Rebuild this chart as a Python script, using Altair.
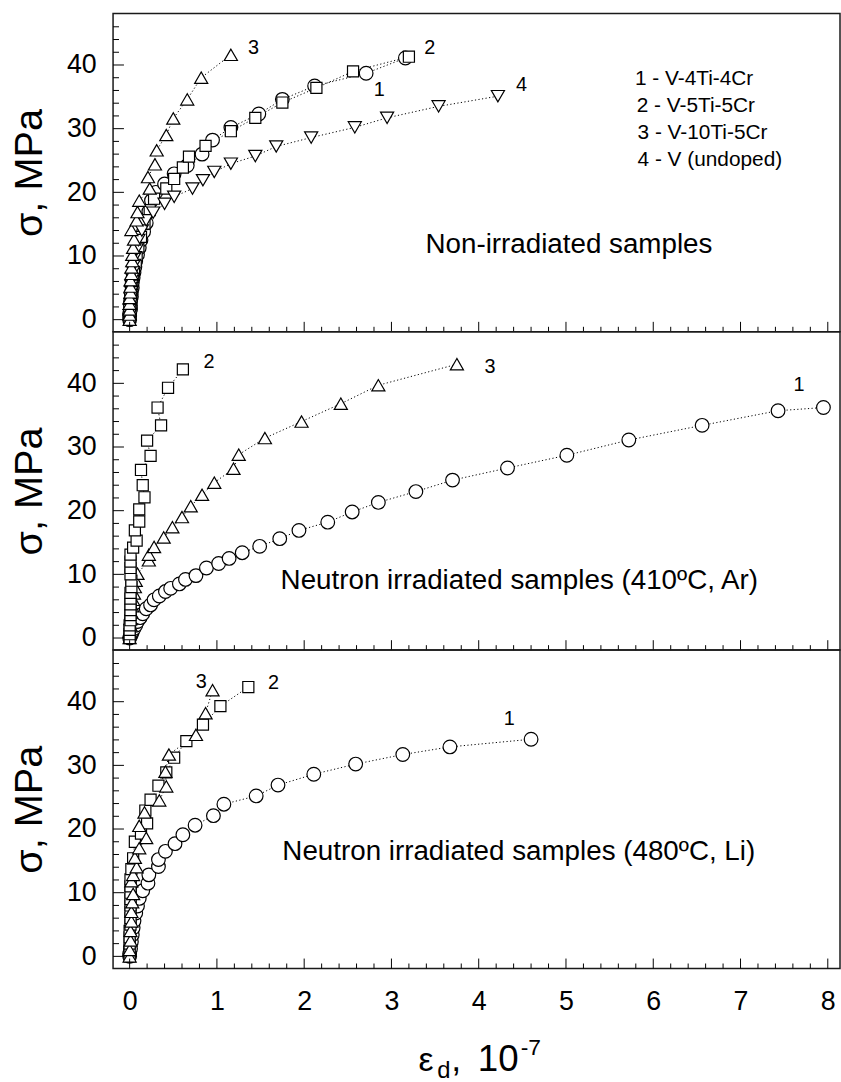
import altair as alt
import pandas as pd

FONT = "Liberation Sans"
W, H = 733, 321
X_DOM = [-0.19, 8.14]
Y_DOM = [-1.9, 48.1]

# ---------------- Panel 1: Non-irradiated samples ----------------
p1_s1_x = [0.00, 0.00, 0.00, 0.01, 0.01, 0.01, 0.02, 0.02, 0.03, 0.03, 0.04, 0.05, 0.06, 0.07, 0.09, 0.11, 0.13,
           0.16, 0.19, 0.22, 0.25, 0.30, 0.40, 0.51, 0.66, 0.83, 0.95, 1.16, 1.48, 1.75, 2.12, 2.71, 3.16]
p1_s1_y = [0.0, 0.5, 1.0, 1.6, 2.2, 2.9, 3.6, 4.3, 5.0, 5.8, 6.6, 7.4, 8.3, 9.2, 10.2, 11.3, 12.5,
           13.8, 15.2, 17.0, 18.7, 20.0, 21.3, 22.9, 24.2, 26.0, 28.2, 30.2, 32.3, 34.6, 36.7, 38.7, 41.1]
p1_s2_x = [0.00, 0.00, 0.00, 0.01, 0.01, 0.02, 0.02, 0.03, 0.04, 0.05, 0.07, 0.08, 0.10, 0.13, 0.17, 0.23,
           0.28, 0.42, 0.51, 0.61, 0.68, 0.87, 1.16, 1.44, 1.75, 2.14, 2.56, 3.20]
p1_s2_y = [0.0, 0.4, 1.0, 1.8, 2.7, 3.6, 4.6, 5.6, 6.7, 7.8, 9.0, 10.2, 11.5, 13.0, 15.1, 17.2,
           19.0, 20.6, 22.1, 23.9, 25.6, 27.3, 29.6, 31.7, 34.1, 36.4, 39.0, 41.3]
p1_s3_x = [0.00, 0.00, 0.00, 0.00, 0.00, 0.01, 0.01, 0.01, 0.02, 0.02, 0.03, 0.03, 0.04, 0.05, 0.02, 0.08,
           0.09, 0.11, 0.23, 0.21, 0.29, 0.31, 0.42, 0.50, 0.66, 0.82, 1.16]
p1_s3_y = [0.0, 0.8, 1.6, 2.5, 3.4, 4.3, 5.2, 6.2, 7.2, 8.2, 9.2, 10.2, 11.3, 12.6, 14.1, 15.6,
           16.9, 18.7, 20.6, 22.4, 24.4, 26.6, 29.0, 31.6, 34.6, 38.0, 41.6]
p1_s4_x = [0.00, 0.00, 0.00, 0.01, 0.01, 0.02, 0.02, 0.03, 0.04, 0.05, 0.06, 0.08, 0.10, 0.14, 0.19, 0.27,
           0.40, 0.51, 0.72, 0.84, 0.97, 1.16, 1.44, 1.68, 2.08, 2.58, 2.95, 3.54, 4.22]
p1_s4_y = [0.0, 0.7, 1.5, 2.4, 3.3, 4.3, 5.3, 6.4, 7.5, 8.6, 9.8, 11.0, 12.5, 14.0, 15.6, 16.8,
           18.2, 19.3, 20.6, 21.9, 23.2, 24.5, 25.7, 27.2, 28.6, 30.2, 31.7, 33.5, 35.1]

# ---------------- Panel 2: Neutron irradiated (410 C, Ar) ----------------
p2_s1_x = [0.00, 0.01, 0.02, 0.03, 0.05, 0.07, 0.09, 0.12, 0.15, 0.19, 0.24, 0.28, 0.34, 0.41, 0.47, 0.57,
           0.64, 0.76, 0.88, 1.02, 1.14, 1.29, 1.49, 1.72, 1.94, 2.27, 2.55, 2.85, 3.28, 3.70, 4.33, 5.01,
           5.72, 6.56, 7.43, 7.95]
p2_s1_y = [0.0, 0.3, 0.6, 1.0, 1.5, 2.0, 2.6, 3.2, 3.8, 4.6, 5.2, 6.0, 6.6, 7.3, 7.8, 8.5,
           9.2, 9.8, 11.0, 11.7, 12.5, 13.4, 14.4, 15.6, 16.9, 18.2, 19.8, 21.3, 23.0, 24.8, 26.7, 28.7,
           31.1, 33.4, 35.7, 36.2]
p2_s2_x = [0.00, 0.00, 0.00, 0.00, 0.01, 0.01, 0.01, 0.01, 0.01, 0.01, 0.02, 0.02, 0.01, 0.01, 0.01, 0.01,
           0.04, 0.08, 0.06, 0.11, 0.11, 0.17, 0.15, 0.13, 0.24, 0.20, 0.36, 0.32, 0.44, 0.61]
p2_s2_y = [0.0, 0.6, 1.3, 2.0, 2.8, 3.6, 4.4, 5.3, 6.2, 7.1, 8.0, 9.0, 10.0, 11.0, 12.0, 13.1,
           14.2, 15.3, 16.9, 18.3, 20.2, 22.1, 24.0, 26.4, 28.6, 31.0, 33.4, 36.2, 39.3, 42.2]
p2_s3_x = [0.00, 0.00, 0.01, 0.01, 0.02, 0.03, 0.04, 0.05, 0.06, 0.07, 0.09, 0.22, 0.22, 0.28, 0.39, 0.49,
           0.60, 0.70, 0.83, 0.97, 1.19, 1.25, 1.55, 1.97, 2.42, 2.85, 3.75]
p2_s3_y = [0.0, 1.0, 2.0, 3.0, 4.0, 5.0, 6.0, 7.0, 8.0, 9.0, 10.1, 12.2, 13.1, 14.3, 15.8, 17.4,
           19.0, 20.7, 22.5, 24.4, 26.6, 28.8, 31.4, 34.0, 36.8, 39.7, 43.0]

# ---------------- Panel 3: Neutron irradiated (480 C, Li) ----------------
p3_s1_x = [0.00, 0.00, 0.01, 0.02, 0.03, 0.04, 0.05, 0.07, 0.09, 0.11, 0.15, 0.21, 0.22, 0.33, 0.33, 0.41,
           0.52, 0.61, 0.75, 0.96, 1.08, 1.45, 1.70, 2.11, 2.59, 3.13, 3.67, 4.60]
p3_s1_y = [0.0, 0.4, 1.2, 2.3, 3.4, 4.5, 5.6, 6.8, 7.9, 9.1, 10.3, 11.5, 12.8, 14.1, 15.2, 16.5,
           17.7, 19.1, 20.6, 22.1, 23.9, 25.2, 26.9, 28.6, 30.2, 31.7, 32.9, 34.1]
p3_s2_x = [0.00, 0.00, 0.00, 0.00, 0.00, 0.01, 0.01, 0.01, 0.01, 0.01, 0.01, 0.01, 0.01, 0.02, 0.04, 0.06,
           0.13, 0.20, 0.18, 0.24, 0.33, 0.42, 0.51, 0.65, 0.84, 1.04, 1.36]
p3_s2_y = [0.0, 1.0, 2.0, 3.0, 4.0, 5.0, 6.0, 7.0, 8.0, 9.0, 10.0, 11.0, 12.1, 13.7, 15.4, 18.0,
           19.3, 20.9, 22.9, 24.6, 26.8, 28.9, 31.2, 33.8, 36.4, 39.3, 42.3]
p3_s3_x = [0.00, 0.00, 0.01, 0.01, 0.02, 0.02, 0.03, 0.04, 0.02, 0.04, 0.08, 0.06, 0.11, 0.19, 0.11, 0.17,
           0.34, 0.42, 0.41, 0.45, 0.76, 0.87, 0.95]
p3_s3_y = [0.0, 1.0, 2.5, 4.0, 5.5, 7.0, 8.5, 9.8, 11.8, 12.8, 14.0, 15.5, 17.0, 18.6, 20.5, 22.6,
           24.5, 26.7, 29.0, 31.7, 34.8, 38.2, 41.8]

# ---------------- Text ----------------
legend_lines = ["1 - V-4Ti-4Cr", "2 - V-5Ti-5Cr", "3 - V-10Ti-5Cr", "4 - V (undoped)"]
legend_x = [5.79, 5.81, 5.82, 5.82]
legend_y = [36.8, 32.6, 28.3, 24.1]

p1_lab_t = ["3", "2", "1", "4"]
p1_lab_x = [1.42, 3.44, 2.86, 4.49]
p1_lab_y = [42.7, 42.7, 36.1, 36.9]
p2_lab_t = ["2", "3", "1"]
p2_lab_x = [0.91, 4.13, 7.67]
p2_lab_y = [43.4, 42.5, 39.7]
p3_lab_t = ["3", "2", "1"]
p3_lab_x = [0.82, 1.65, 4.35]
p3_lab_y = [43.1, 42.9, 37.2]

notes = ["Non-irradiated samples",
         "Neutron irradiated samples (410ºC, Ar)",
         "Neutron irradiated samples (480ºC, Li)"]
note_x = [3.39, 1.73, 1.75]
note_y = [10.4, 7.7, 15.1]

x_major = [0, 1, 2, 3, 4, 5, 6, 7, 8]
x_minor = [round(i * 0.2, 1) for i in range(0, 41) if i % 5 != 0]
y_major = [0, 10, 20, 30, 40]
y_minor = [2, 4, 6, 8, 12, 14, 16, 18, 22, 24, 26, 28, 32, 34, 36, 38, 42, 44, 46]

SHAPES = {"1": "circle", "2": "square", "3": "triangle-up", "4": "triangle-down"}
SIZES = {"1": 190, "2": 125, "3": 175, "4": 175}


def series_df(sid, xs, ys):
    return pd.DataFrame({"x": xs, "y": ys, "s": sid, "i": list(range(len(xs)))})


def panel(series, labels, note, show_x, legend=False):
    xs = alt.Scale(domain=X_DOM, nice=False, zero=False)
    ys = alt.Scale(domain=Y_DOM, nice=False, zero=False)
    x_axis = alt.Axis(labels=show_x, ticks=False, tickSize=0, domain=False, grid=False, title=None,
                      values=x_major, labelFontSize=27, labelFont=FONT, labelColor="black",
                      labelPadding=20)
    y_axis = alt.Axis(values=y_major, ticks=False, tickSize=0, domain=False, grid=False,
                      title="σ, MPa", titleFontSize=40, titleFont=FONT, titleFontWeight="normal",
                      titleColor="black", titlePadding=17, labelFontSize=27, labelFont=FONT,
                      labelColor="black", labelPadding=17, minExtent=47, maxExtent=47)

    def X(f="x"):
        return alt.X(f"{f}:Q", scale=xs, axis=x_axis)

    def Y(f="y"):
        return alt.Y(f"{f}:Q", scale=ys, axis=y_axis)

    df = pd.concat([series_df(*s) for s in series], ignore_index=True)
    layers = []
    layers.append(alt.Chart(df).mark_line(color="black", strokeWidth=1, strokeDash=[1.2, 2.4]).encode(
        x=X(), y=Y(), detail="s:N", order="i:Q"))
    for sid, _, _ in series:
        sub = df[df["s"] == sid]
        layers.append(alt.Chart(sub).mark_point(shape=SHAPES[sid], size=SIZES[sid], filled=True,
                                                fill="white", stroke="black", strokeWidth=1.2,
                                                opacity=1).encode(x=X(), y=Y()))
    # inner ticks
    layers.append(alt.Chart(pd.DataFrame({"v": y_minor})).mark_rule(color="black", strokeWidth=1).encode(
        y=Y("v"), x=alt.value(0), x2=alt.value(6)))
    layers.append(alt.Chart(pd.DataFrame({"v": y_major})).mark_rule(color="black", strokeWidth=1).encode(
        y=Y("v"), x=alt.value(0), x2=alt.value(11)))
    layers.append(alt.Chart(pd.DataFrame({"v": x_minor})).mark_rule(color="black", strokeWidth=1).encode(
        x=X("v"), y=alt.value(H), y2=alt.value(H - 5)))
    layers.append(alt.Chart(pd.DataFrame({"v": x_major})).mark_rule(color="black", strokeWidth=1).encode(
        x=X("v"), y=alt.value(H), y2=alt.value(H - 10)))
    # series number labels
    lt, lx, ly = labels
    layers.append(alt.Chart(pd.DataFrame({"x": lx, "y": ly, "t": lt})).mark_text(
        font=FONT, fontSize=20, color="black", align="center", baseline="middle").encode(
        x=X(), y=Y(), text="t:N"))
    # panel note
    nt, nx, ny = note
    layers.append(alt.Chart(pd.DataFrame({"x": [nx], "y": [ny], "t": [nt]})).mark_text(
        font=FONT, fontSize=28, color="black", align="left", baseline="alphabetic").encode(
        x=X(), y=Y(), text="t:N"))
    if legend:
        layers.append(alt.Chart(pd.DataFrame({"x": legend_x, "y": legend_y, "t": legend_lines})).mark_text(
            font=FONT, fontSize=21, color="black", align="left", baseline="alphabetic").encode(
            x=X(), y=Y(), text="t:N"))
    if show_x:
        parts = [("ε", 308, 424, 34, "left"), ("d", 327, 431, 24, "left"),
                 (",", 341, 424, 36, "left"), ("10", 409, 424, 37, "right"),
                 ("-7", 411, 408, 23, "left")]
        for t, px, py, fs, al in parts:
            layers.append(alt.Chart(pd.DataFrame({"t": [t]})).mark_text(
                font=FONT, fontSize=fs, color="black", align=al, baseline="alphabetic").encode(
                x=alt.value(px), y=alt.value(py), text="t:N"))
    return alt.layer(*layers).properties(width=W, height=H)


p1 = panel([("1", p1_s1_x, p1_s1_y), ("2", p1_s2_x, p1_s2_y), ("4", p1_s4_x, p1_s4_y), ("3", p1_s3_x, p1_s3_y)],
           (p1_lab_t, p1_lab_x, p1_lab_y), (notes[0], note_x[0], note_y[0]), False, legend=True)
p2 = panel([("1", p2_s1_x, p2_s1_y), ("3", p2_s3_x, p2_s3_y), ("2", p2_s2_x, p2_s2_y)],
           (p2_lab_t, p2_lab_x, p2_lab_y), (notes[1], note_x[1], note_y[1]), False)
p3 = panel([("1", p3_s1_x, p3_s1_y), ("2", p3_s2_x, p3_s2_y), ("3", p3_s3_x, p3_s3_y)],
           (p3_lab_t, p3_lab_x, p3_lab_y), (notes[2], note_x[2], note_y[2]), True)

chart = alt.vconcat(p1, p2, p3, spacing=0).properties(
    bounds="flush",
    padding={"left": 9, "top": 8, "right": 0, "bottom": 0},
    background="white",
).configure_view(stroke="#1a1a1a", strokeWidth=1.5)

chart.save("out.html", embed_options={"renderer": "svg", "actions": False})
